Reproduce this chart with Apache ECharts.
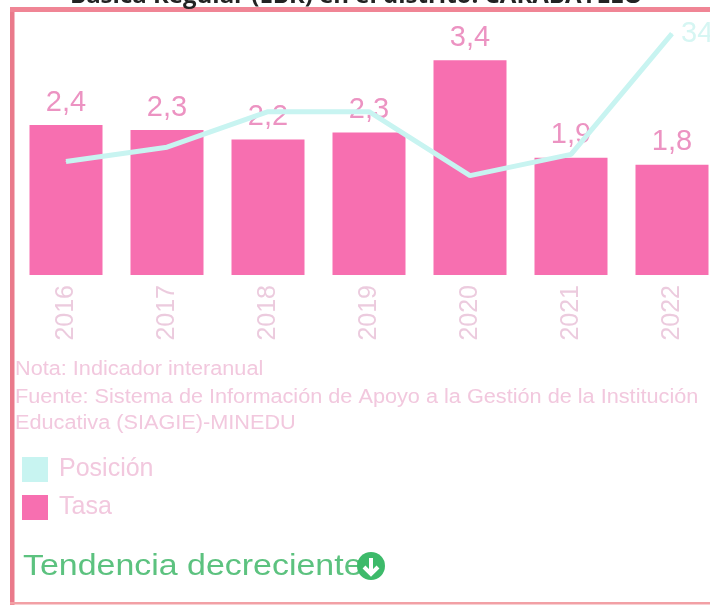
<!DOCTYPE html>
<html><head><meta charset="utf-8">
<style>html,body{margin:0;padding:0;background:#fff}#c{width:710px;height:605px}</style>
<script src="https://cdn.jsdelivr.net/npm/echarts@6/dist/echarts.min.js"></script>
</head><body><div id="c"></div>
<script>
const years = ['2016','2017','2018','2019','2020','2021','2022'];
const tasa = [2.38,2.30,2.151,2.26,3.41,1.86,1.75];
const posicion = [16,18,23,23,14,17,34];
const titleText = 'Básica Regular (EBR) en el distrito: CARABAYLLO';
const noteLines = ['Nota: Indicador interanual','Fuente: Sistema de Información de Apoyo a la Gestión de la Institución','Educativa (SIAGIE)-MINEDU'];
const trendText = 'Tendencia decreciente';
const FONT = '"Liberation Sans", Arial, sans-serif';
const PINK_TEXT = '#f2c8de';
const chart = echarts.init(document.getElementById('c'), null, {renderer:'canvas'});
const noteStyle = t => ({text:t,fontFamily:FONT,fontSize:20,fill:PINK_TEXT});
chart.setOption({
  animation:false,
  backgroundColor:'#ffffff',
  title:{text:titleText,left:70,top:-16,padding:0,textStyle:{fontFamily:'"Open Sans",sans-serif',fontWeight:'bold',fontSize:24,color:'#222'}},
  grid:{left:15.5,width:707,top:23,height:252,outerBoundsMode:'none',containLabel:false},
  legend:{orient:'vertical',left:22,top:457,padding:0,itemWidth:26,itemHeight:25,itemGap:13,icon:'rect',
    data:['Posición','Tasa'],textStyle:{fontFamily:FONT,fontSize:25,color:PINK_TEXT,padding:[0,0,0,6]}},
  xAxis:{type:'category',data:years,axisLine:{show:false},axisTick:{show:false},
    axisLabel:{rotate:90,margin:10,fontFamily:FONT,fontSize:25,color:'#eccbde',interval:0,hideOverlap:false}},
  yAxis:[{type:'value',min:0,max:4,show:false},{type:'value',min:0,max:35.5,show:false}],
  series:[
    {name:'Tasa',type:'bar',data:tasa,barWidth:73,itemStyle:{color:'#f76fb0'},
     label:{show:true,position:'top',distance:8,fontFamily:FONT,fontSize:29,color:'#ec93c2',
       formatter:p=>p.value.toFixed(1).replace('.',',')}},
    {name:'Posición',type:'line',yAxisIndex:1,data:posicion,
     symbol:'circle',symbolSize:1,showAllSymbol:true,z:3,lineStyle:{color:'#c8f4f1',width:5},itemStyle:{color:'#c8f4f1'},
     endLabel:{show:true,distance:9,fontFamily:FONT,fontSize:29,color:'#d6f6f3',formatter:p=>String(p.value)}}
  ],
  graphic:[
    {type:'rect',silent:true,shape:{x:10,y:7,width:4.5,height:598},style:{fill:'#ea7a8b'}},
    {type:'rect',silent:true,shape:{x:10,y:7,width:700,height:5},style:{fill:'#f08595'}},
    {type:'rect',silent:true,shape:{x:10,y:602,width:700,height:2.5},style:{fill:'#f2a0a5'}},
    {type:'text',x:15,y:359,scaleX:1.084,style:noteStyle(noteLines[0])},
    {type:'text',x:15,y:387,scaleX:1.084,style:noteStyle(noteLines[1])},
    {type:'text',x:15,y:413,scaleX:1.084,style:noteStyle(noteLines[2])},
    {type:'text',x:23,y:552,scaleX:1.17,style:{text:trendText,fontFamily:FONT,fontSize:29,fill:'#5cc27f'}},
    {type:'circle',shape:{cx:371,cy:566,r:14},style:{fill:'#3dba6a'},z:10},
    {type:'polyline',shape:{points:[[371,558],[371,574]]},style:{stroke:'#fff',lineWidth:4,fill:'none'},z:11},
    {type:'polyline',shape:{points:[[364,567],[371,574],[378,567]]},style:{stroke:'#fff',lineWidth:4,fill:'none'},z:11}
  ]
});
</script></body></html>
